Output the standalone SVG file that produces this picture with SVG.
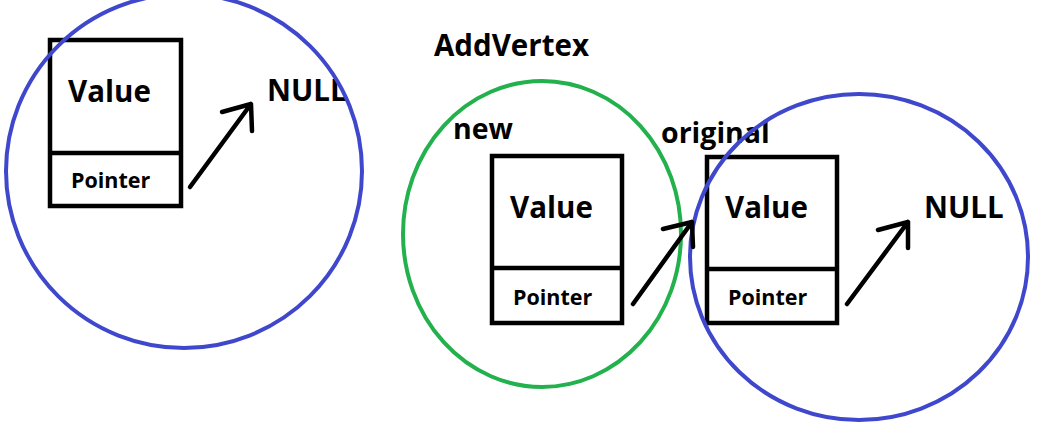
<svg xmlns="http://www.w3.org/2000/svg" width="1037" height="430" viewBox="0 0 1037 430">
<style>
.box{fill:none;stroke:#000;stroke-width:4.5}
.t{font-family:"Open Sans","Noto Sans",sans-serif;font-weight:bold;fill:#000}
.big{font-size:29.5px}
.ptr{font-size:21.5px}
.lbl{font-size:28.5px}
.blue{fill:none;stroke:#3F48CC;stroke-width:4}
.green{fill:none;stroke:#22B14C;stroke-width:4}
.arr{fill:none;stroke:#000;stroke-width:4.5;stroke-linecap:round;stroke-linejoin:round}
</style>
<rect width="1037" height="430" fill="#fff"/>
<text class="t" x="434" y="56" style="font-size:29.5px">AddVertex</text>
<g id="node-left">
<rect class="box" x="50" y="40" width="131" height="166"/>
<line class="box" x1="50" y1="153" x2="181" y2="153"/>
<text class="t big" x="68" y="102">Value</text>
<text class="t ptr" x="71" y="188">Pointer</text>
<text class="t big" x="267" y="101">NULL</text>
<ellipse class="blue" cx="184" cy="171" rx="178" ry="177"/>
</g>
<g id="node-new">
<rect class="box" x="492" y="156" width="130" height="167"/>
<line class="box" x1="492" y1="268" x2="622" y2="268"/>
<text class="t big" x="510" y="218">Value</text>
<text class="t ptr" x="513" y="305">Pointer</text>
<text class="t lbl" x="453" y="139">new</text>
<ellipse class="green" cx="542" cy="234" rx="139" ry="153"/>
</g>
<g id="node-original">
<rect class="box" x="707" y="157" width="130" height="166"/>
<line class="box" x1="707" y1="269" x2="837" y2="269"/>
<text class="t big" x="725" y="218">Value</text>
<text class="t ptr" x="728" y="305">Pointer</text>
<text class="t lbl" x="661" y="143">original</text>
<text class="t big" x="924" y="218">NULL</text>
<ellipse class="blue" cx="859" cy="257" rx="169" ry="163"/>
</g>
<g id="connectors">
<path class="arr" d="M190,187 L251,104 M222,112 L251,104 L252,131"/>
<path class="arr" d="M633,304 L692,222 M663,229 L692,222 L693,247"/>
<path class="arr" d="M847,304 L908,222 M878,230 L908,222 L908,248"/>
</g>
</svg>
